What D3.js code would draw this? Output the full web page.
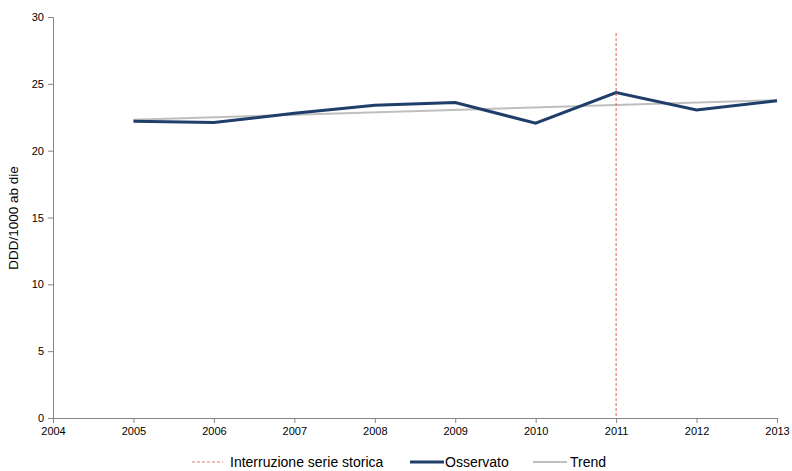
<!DOCTYPE html>
<html><head><meta charset="utf-8">
<script src="https://cdn.jsdelivr.net/npm/d3@7"></script>
<style>body{margin:0;background:#fff;}svg{display:block;font-family:"Liberation Sans",Arial,sans-serif;}</style>
</head><body><svg id="c" width="792" height="471"></svg>
<script>
const years = [2005,2006,2007,2008,2009,2010,2011,2012,2013];
const observed = [22.2,22.1,22.8,23.4,23.6,22.05,24.35,23.04,23.73];
const trendStart = 22.32, trendEnd = 23.78;
const breakYear = 2011, breakTop = 28.8;
const yTicks = [0,5,10,15,20,25,30];
const xTicks = [2004,2005,2006,2007,2008,2009,2010,2011,2012,2013];

const svg = d3.select("#c");
const x = d3.scaleLinear().domain([2004,2013]).range([53,777]);
const y = d3.scaleLinear().domain([0,30]).range([418,17]);
const axisCol = "#868686";

const ya = svg.append("g").attr("transform","translate(53,0)")
  .call(d3.axisLeft(y).tickValues(yTicks).tickSize(5).tickPadding(4));
const xa = svg.append("g").attr("transform","translate(0,418)")
  .call(d3.axisBottom(x).tickValues(xTicks).tickFormat(d3.format("d")).tickSize(5).tickPadding(4));
[ya,xa].forEach(a=>{a.selectAll("path,line").attr("stroke",axisCol);a.selectAll("text").attr("fill","#000").style("font-size","11px");});

svg.append("text").attr("transform","translate(18,218) rotate(-90)").attr("text-anchor","middle")
  .style("font-size","13.5px").text("DDD/1000 ab die");

// trend
svg.append("line").attr("x1",x(years[0])).attr("x2",x(years[years.length-1]))
  .attr("y1",y(trendStart)).attr("y2",y(trendEnd)).attr("stroke","#bfbfbf").attr("stroke-width",2);
// observed
svg.append("path").datum(years.map((d,i)=>[d,observed[i]]))
  .attr("d",d3.line().x(d=>x(d[0])).y(d=>y(d[1])))
  .attr("fill","none").attr("stroke","#1f3e69").attr("stroke-width",3);
// break line
svg.append("line").attr("x1",x(breakYear)).attr("x2",x(breakYear)).attr("y1",y(breakTop)).attr("y2",y(0))
  .attr("stroke","#e05a5a").attr("stroke-width",1).attr("stroke-dasharray","3,2");

// legend
const lg = svg.append("g").style("font-size","14px");
const items = [
  {label:"Interruzione serie storica", x1:192, x2:223, tx:230, color:"#e07a7a", w:1, dash:"3,2"},
  {label:"Osservato", x1:410, x2:444, tx:445, color:"#1f3e69", w:3, dash:null},
  {label:"Trend", x1:533, x2:567, tx:570, color:"#bfbfbf", w:2, dash:null}
];
items.forEach(it=>{
  lg.append("line").attr("x1",it.x1).attr("x2",it.x2).attr("y1",462).attr("y2",462)
    .attr("stroke",it.color).attr("stroke-width",it.w).attr("stroke-dasharray",it.dash);
  lg.append("text").attr("x",it.tx).attr("y",467).text(it.label);
});
</script></body></html>
